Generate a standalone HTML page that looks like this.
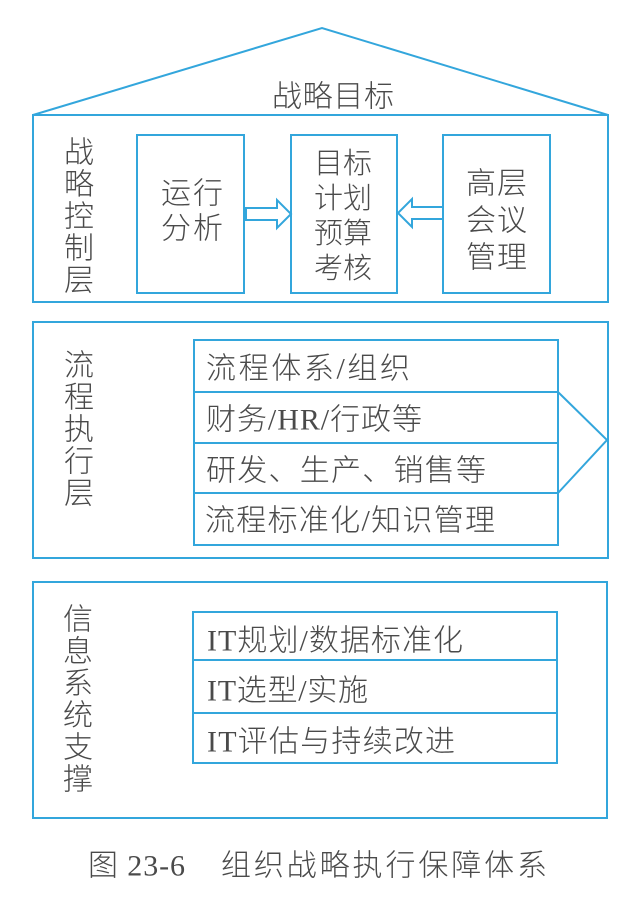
<!DOCTYPE html>
<html><head><meta charset="utf-8"><style>
html,body{margin:0;padding:0;background:#fff;}
svg{display:block;}
text{font-family:"Liberation Serif","Noto Sans CJK SC",sans-serif;fill:#4a4a4a;font-size:30px;font-weight:300;}
</style></head><body>
<svg width="627" height="901" viewBox="0 0 627 901" xmlns="http://www.w3.org/2000/svg">
<g fill="none" stroke="#33a6dc" stroke-width="2">
  <polyline points="33,115 322,28 608,115"/>
  <rect x="33" y="115" width="575" height="187"/>
  <rect x="137" y="135" width="107" height="158"/>
  <rect x="291" y="135" width="106" height="158"/>
  <rect x="443" y="135" width="107" height="158"/>
  <polygon points="246,208 277,208 277,200 291,214 277,228 277,220 246,220"/>
  <polygon points="443,207 412,207 412,199 398,213 412,227 412,219 443,219"/>
  <rect x="33" y="322" width="575" height="236"/>
  <rect x="194" y="340" width="364" height="205"/>
  <line x1="194" y1="392" x2="558" y2="392"/>
  <line x1="194" y1="443" x2="558" y2="443"/>
  <line x1="194" y1="493" x2="558" y2="493"/>
  <polyline points="558,392 607,440 558,493"/>
  <rect x="33" y="582" width="574" height="236"/>
  <rect x="193" y="612" width="364" height="151"/>
  <line x1="193" y1="660" x2="557" y2="660"/>
  <line x1="193" y1="713" x2="557" y2="713"/>
</g>
<g dominant-baseline="central">
  <text x="272" y="97" textLength="122" lengthAdjust="spacing">战略目标</text>
  <g text-anchor="middle">
    <text x="79" y="153">战</text><text x="79" y="185">略</text><text x="79" y="217">控</text><text x="79" y="249">制</text><text x="79" y="281">层</text>
    <text x="79" y="366">流</text><text x="79" y="398">程</text><text x="79" y="430">执</text><text x="79" y="462">行</text><text x="79" y="494">层</text>
    <text x="78" y="620">信</text><text x="78" y="652">息</text><text x="78" y="684">系</text><text x="78" y="716">统</text><text x="78" y="748">支</text><text x="78" y="780">撑</text>
  </g>
  <text x="161" y="194" textLength="62" lengthAdjust="spacing">运行</text>
  <text x="161" y="229" textLength="62" lengthAdjust="spacing">分析</text>
  <text x="314" y="164" textLength="58" lengthAdjust="spacing" style="font-size:29px">目标</text>
  <text x="314" y="199" textLength="58" lengthAdjust="spacing" style="font-size:29px">计划</text>
  <text x="314" y="234" textLength="58" lengthAdjust="spacing" style="font-size:29px">预算</text>
  <text x="314" y="269" textLength="58" lengthAdjust="spacing" style="font-size:29px">考核</text>
  <text x="466" y="184" textLength="61" lengthAdjust="spacing">高层</text>
  <text x="466" y="221" textLength="61" lengthAdjust="spacing">会议</text>
  <text x="466" y="258" textLength="61" lengthAdjust="spacing">管理</text>
  <text x="206" y="369" textLength="204" lengthAdjust="spacing">流程体系/组织</text>
  <text x="206" y="420" textLength="216" lengthAdjust="spacing">财务/HR/行政等</text>
  <text x="206" y="471" textLength="280" lengthAdjust="spacing">研发、生产、销售等</text>
  <text x="205" y="521" textLength="290" lengthAdjust="spacing">流程标准化/知识管理</text>
  <text x="207" y="641" textLength="256" lengthAdjust="spacing">IT规划/数据标准化</text>
  <text x="207" y="691" textLength="161" lengthAdjust="spacing">IT选型/实施</text>
  <text x="207" y="742" textLength="248" lengthAdjust="spacing">IT评估与持续改进</text>
  <text x="88" y="866" textLength="97" lengthAdjust="spacing">图 23-6</text>
  <text x="221" y="866" textLength="326" lengthAdjust="spacing">组织战略执行保障体系</text>
</g>
</svg>
</body></html>
